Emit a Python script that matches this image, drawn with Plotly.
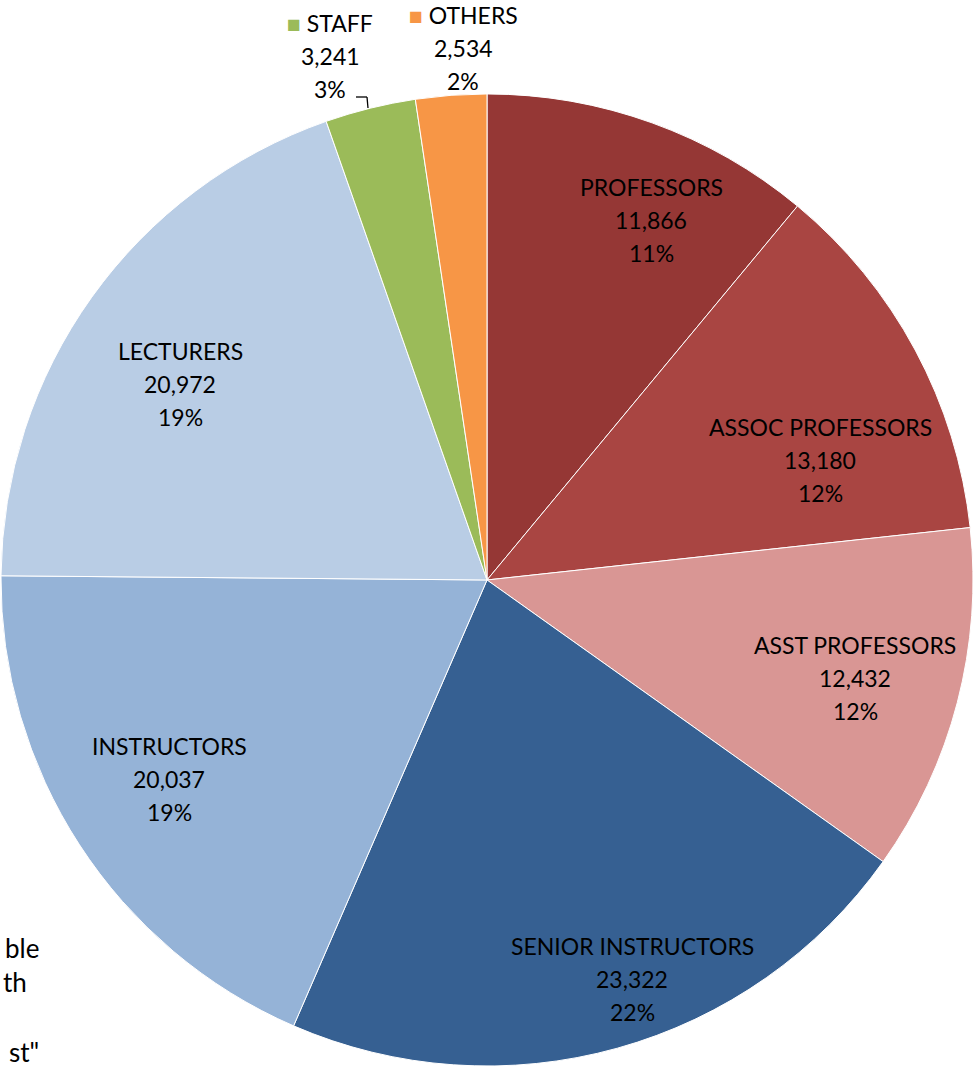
import plotly.graph_objects as go

categories = ["PROFESSORS", "ASSOC PROFESSORS", "ASST PROFESSORS", "SENIOR INSTRUCTORS",
              "INSTRUCTORS", "LECTURERS", "STAFF", "OTHERS"]
values = [11866, 13180, 12432, 23322, 20037, 20972, 3241, 2534]
colors = ["#953735", "#A94542", "#D99694", "#366092", "#95B3D7", "#B9CDE5", "#9BBB59", "#F79646"]

W, H = 974, 1069
total = sum(values)

# label block centres (pixels, middle line) — layout only
label_pos = [(651, 220), (820, 460), (855, 678), (632, 979), (169, 779), (180, 384), (330, 56), (463, 48)]
FONT = "Lato"
FS = 23
LINE = 33

fig = go.Figure(go.Pie(
    labels=categories, values=values, sort=False, direction="clockwise", rotation=0,
    marker=dict(colors=colors, line=dict(color="white", width=1)),
    textinfo="none", hoverinfo="label+value+percent", showlegend=False,
    domain=dict(x=[0.0010, 0.9990], y=[0.0028, 0.9121]),
))

def px(x, y):
    return x / W, 1 - y / H

anns = []
for i, (cat, v) in enumerate(zip(categories, values)):
    cx, cy = label_pos[i]
    pct = f"{round(v / total * 100)}%"
    first = cat
    if cat in ("STAFF", "OTHERS"):
        first = f'<span style="color:{colors[i]}">■</span> {cat}'
    lines = [first, f"{v:,}", pct]
    for j, t in enumerate(lines):
        x, y = px(cx, cy + (j - 1) * LINE)
        anns.append(dict(x=x, y=y, xref="paper", yref="paper", text=t, showarrow=False,
                         xanchor="center", yanchor="middle",
                         font=dict(family=FONT, size=FS, color="#000000")))

# cut-off caption fragments at the bottom left
for t, (x0, y0) in [("ble", (41, 948)), ("th", (29, 982)), ("st\"", (41, 1052))]:
    x, y = px(x0, y0)
    anns.append(dict(x=x, y=y, xref="paper", yref="paper", text=t, showarrow=False,
                     xanchor="right", yanchor="middle",
                     font=dict(family=FONT, size=26, color="#000000")))

# leader line for STAFF label
shapes = [
    dict(type="line", xref="paper", yref="paper",
         x0=356 / W, y0=1 - 97 / H, x1=367 / W, y1=1 - 97 / H, line=dict(color="#000000", width=1.3)),
    dict(type="line", xref="paper", yref="paper",
         x0=367 / W, y0=1 - 97 / H, x1=368 / W, y1=1 - 108 / H, line=dict(color="#000000", width=1.3)),
]

fig.update_layout(
    width=W, height=H, margin=dict(l=0, r=0, t=0, b=0),
    paper_bgcolor="white", plot_bgcolor="white",
    annotations=anns, shapes=shapes,
)

fig.write_html("out.html", config={"displayModeBar": False},
               post_script="document.body.style.margin='0';document.body.style.overflow='hidden';")
